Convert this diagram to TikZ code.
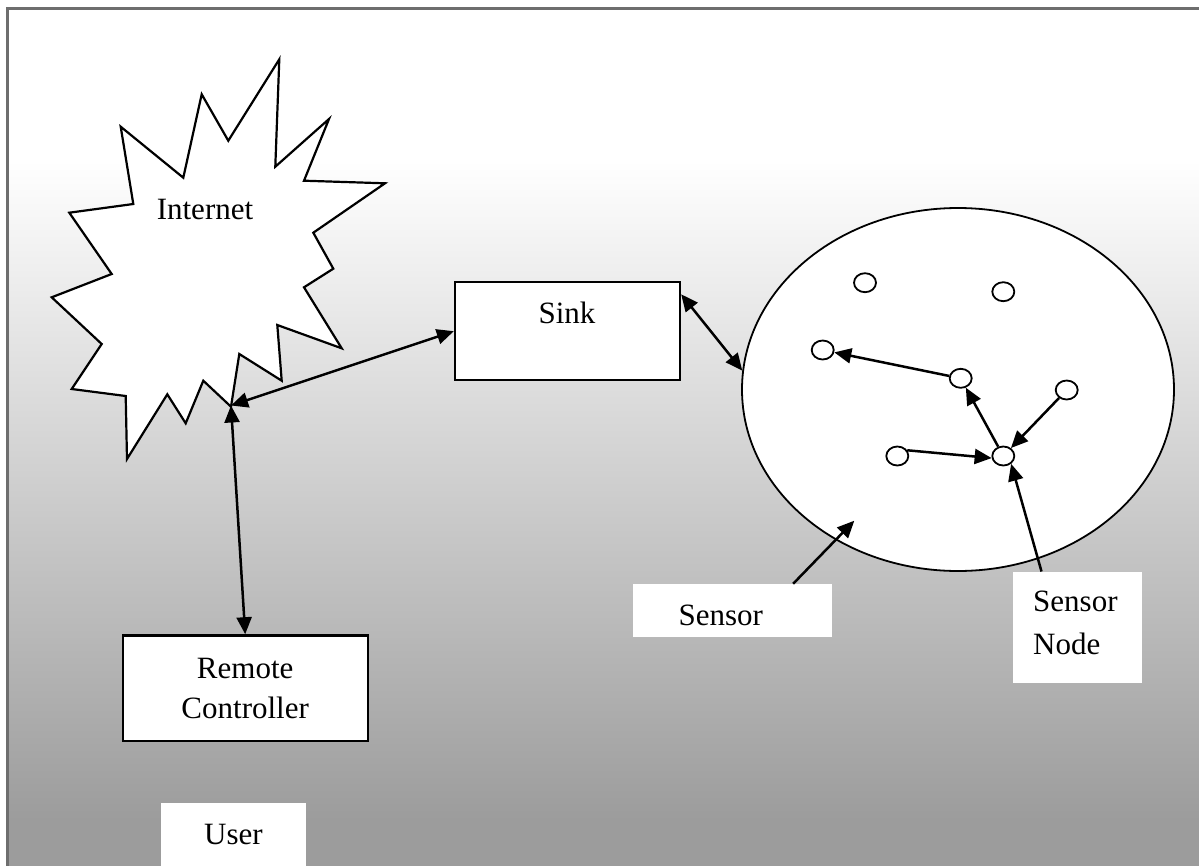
\documentclass[tikz,border=0pt]{standalone}
\usepackage{fontspec}
\setmainfont{Liberation Serif}
\usetikzlibrary{arrows.meta,shapes.geometric,calc}
\definecolor{bgdark}{RGB}{156,156,156}
\definecolor{framegray}{RGB}{110,110,110}
\begin{document}
\begin{tikzpicture}[x=1pt,y=-1pt,
  txt/.style={font=\fontsize{31}{40}\selectfont, inner sep=0pt},
  box/.style={draw=black, line width=2.3pt, fill=white, inner sep=0pt},
  lbl/.style={fill=white, inner sep=0pt},
  tip/.tip={Triangle[length=17pt,width=15pt]},
  arr/.style={line width=2.5pt, -tip},
  darr/.style={line width=2.5pt, tip-tip},
  sn/.style={draw, line width=1.8pt, fill=white, ellipse, minimum width=22pt, minimum height=19pt, inner sep=0pt}]
\useasboundingbox (0,0) rectangle (1199,865);
% background
\fill[white] (0,0) rectangle (1199,865);
\fill[white] (7.5,8.5) rectangle (1210,160.5);
\shade[top color=white, bottom color=bgdark] (7.5,160) rectangle (1210,820.5);
\fill[bgdark] (7.5,820) rectangle (1210,880);
\draw[framegray, line width=2.8pt] (7.5,880) -- (7.5,8.5) -- (1210,8.5);
% Internet starburst
\draw[line width=2.2pt, fill=white, line join=miter]
  (279.3,59.3) -- (275.3,166.7) -- (329,119) -- (304,180.7) -- (385,183.3)
  -- (313.3,232.7) -- (333.3,268.7) -- (304,287.3) -- (341.7,348.3)
  -- (277.3,325) -- (281.7,380.7) -- (239.3,354) -- (231,406.7)
  -- (203.3,380.7) -- (185.7,423.3) -- (167.3,394.3) -- (127,459)
  -- (125.7,396) -- (71.7,389) -- (101.7,344) -- (51.7,297.3)
  -- (111.7,274) -- (69.3,212.7) -- (133.3,204) -- (120.7,126.7)
  -- (183.3,177.7) -- (201.7,94.3) -- (228.3,140.7) -- cycle;
\coordinate (inet) at (231,405.5);
\node[txt] (internet) at (205,209) {Internet};
% Sink
\node[box, minimum width=225pt, minimum height=98pt] (sink) at (567.5,331.2) {};
\node[txt] (sinktext) at (567,313) {Sink};
% Remote controller
\node[box, minimum width=245pt, minimum height=105.7pt, align=center, txt, font=\fontsize{31}{40}\selectfont] (remote) at (245.2,688.2) {Remote\\Controller};
% User label
\node[lbl, minimum width=145pt, minimum height=80pt] (userbox) at (233.2,843) {};
\node[txt] (user) at (233.5,834) {User};
% Sensor field
\node[draw, ellipse, line width=1.8pt, fill=white, minimum width=432pt, minimum height=363pt, inner sep=0pt] (field) at (958,389.5) {};
\node[sn] (n1) at (865,282.7) {};
\node[sn] (n2) at (1003.3,291.7) {};
\node[sn] (n3) at (822.7,350) {};
\node[sn] (n4) at (960.7,378.3) {};
\node[sn] (n6) at (1066.7,390) {};
\node[sn] (n7) at (897.3,456) {};
\node[sn] (n5) at (1003.3,456) {};
% labels
\node[lbl, minimum width=199.3pt, minimum height=52.7pt] (sensorbox) at (732.35,610.35) {};
\node[txt] (sensor) at (720.8,615) {Sensor};
\node[lbl, minimum width=128.7pt, minimum height=111.6pt] (snbox) at (1077.65,627.5) {};
\node[txt, anchor=west, align=left, font=\fontsize{31}{43}\selectfont] (sntext) at (1033,623.3) {Sensor\\Node};
% connectors
\draw[darr] (inet) -- (sink.west);
\draw[darr] (inet) -- (remote.north);
\draw[darr] (sink.18) -- (field.175);
\draw[arr] (n4) -- (n3);
\draw[arr] (n5) -- (n4);
\draw[arr] (n6) -- (n5);
\draw[arr] (n7.30) -- (n5.190);
\coordinate (sensortip) at (854.3,520.7);
\draw[arr] ($(sensorbox.north west)+(160.6,0)$) -- (sensortip);
\draw[arr] ($(snbox.north west)+(28.4,0)$) -- (n5.-45);
\end{tikzpicture}
\end{document}
